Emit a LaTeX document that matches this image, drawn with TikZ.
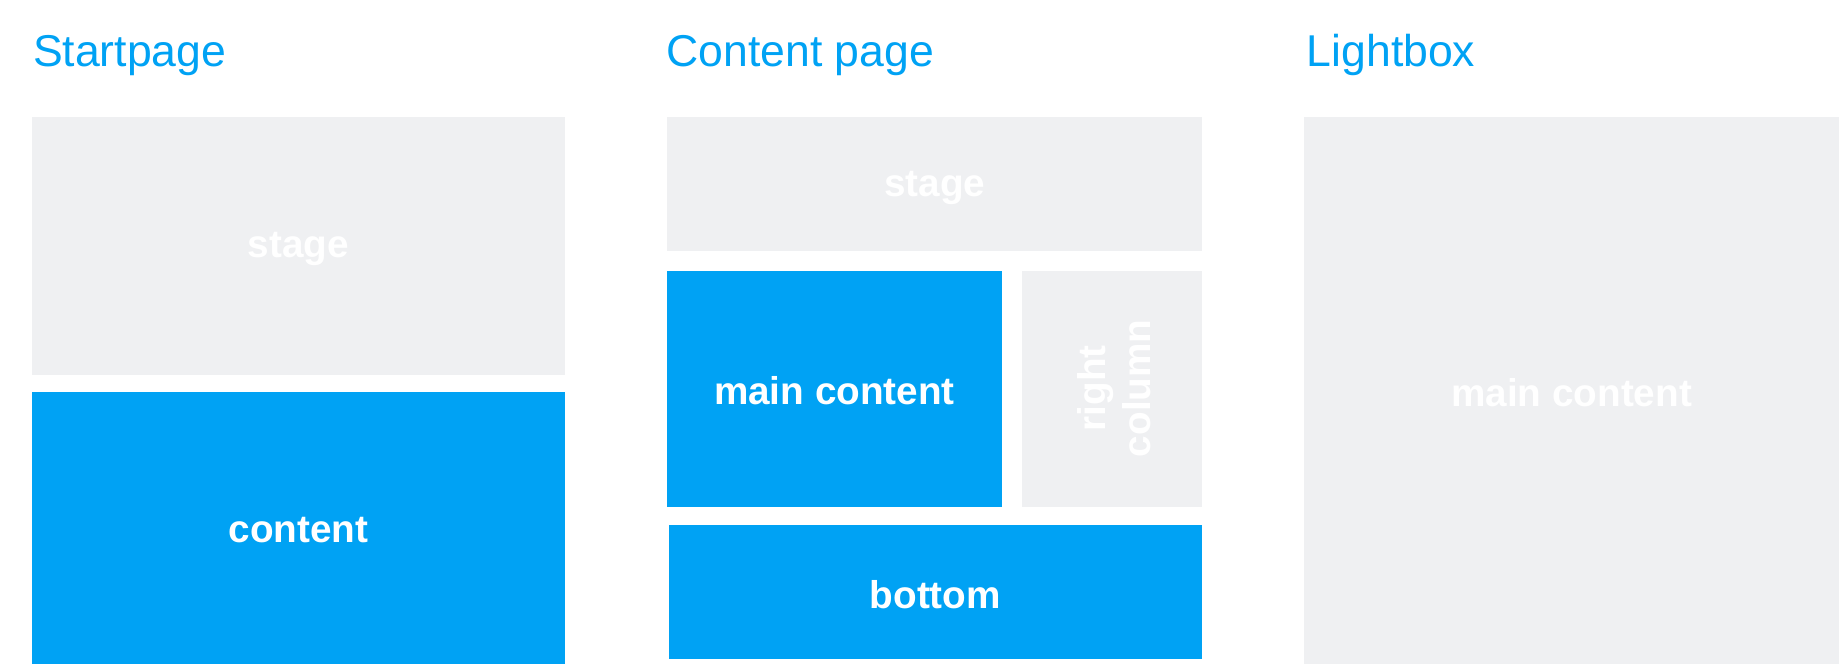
\documentclass[tikz,border=0pt]{standalone}
\usepackage{fontspec}
\setmainfont{Liberation Sans}
\definecolor{lgrey}{HTML}{EFF0F2}
\definecolor{lblue}{HTML}{00A2F4}
\begin{document}
\begin{tikzpicture}[x=1pt,y=-1pt,
  box/.style={inner sep=0pt},
  grey/.style={fill=lgrey},
  blue/.style={fill=lblue},
  lbl/.style={text=white,font=\fontsize{33}{38}\selectfont\bfseries,align=center},
  ttl/.style={text=lblue,font=\fontsize{38}{44}\selectfont,anchor=base west,inner sep=0pt}]
\useasboundingbox (0,0) rectangle (1568,566);
\fill[white] (0,0) rectangle (1568,566);
\node[ttl] (t1) at (28,57) {Startpage};
\node[ttl] (t2) at (568,57) {Content page};
\node[ttl] (t3) at (1114,57) {Lightbox};
\fill[grey] (27,100) rectangle (482,320);
\node[lbl] (s1) at (254.5,212) {stage};
\fill[blue] (27,334) rectangle (482,566);
\node[lbl] (c1) at (254.5,452) {content};
\fill[grey] (569,100) rectangle (1025,214);
\node[lbl] (s2) at (797,160) {stage};
\fill[blue] (569,231) rectangle (854,432);
\node[lbl] (m2) at (711.5,333) {main content};
\fill[grey] (871,231) rectangle (1025,432);
\node[lbl,rotate=90] (r2) at (950,331) {right\\column};
\fill[blue] (570,448) rectangle (1025,562);
\node[lbl] (b2) at (797.5,507) {bottom};
\fill[grey] (1112,100) rectangle (1568,566);
\node[lbl] (m3) at (1340,335) {main content};
\end{tikzpicture}
\end{document}
